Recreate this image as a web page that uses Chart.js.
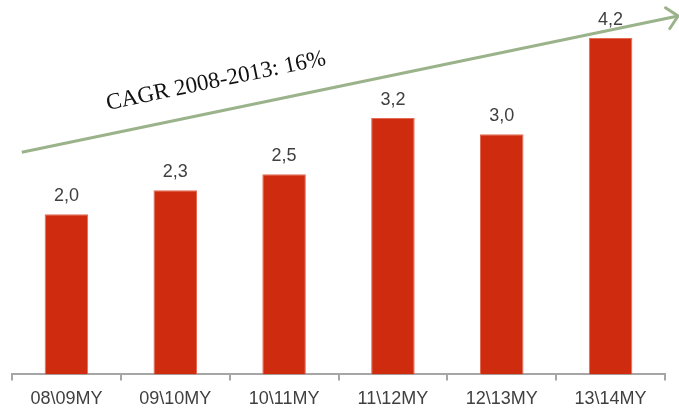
<!DOCTYPE html>
<html>
<head>
<meta charset="utf-8">
<script src="https://cdn.jsdelivr.net/npm/chart.js@4/dist/chart.umd.min.js"></script>
<style>
html,body{margin:0;padding:0;background:#fff;}
#wrap{width:679px;height:408px;position:relative;}
</style>
</head>
<body>
<div id="wrap"><canvas id="c" width="679" height="408"></canvas></div>
<script>
const categories = ['08\\09MY', '09\\10MY', '10\\11MY', '11\\12MY', '12\\13MY', '13\\14MY'];
const values = [2.0, 2.3, 2.5, 3.2, 3.0, 4.2];
const trendLine = [{x: -0.41, y: 2.775}, {x: 5.62, y: 4.475}];
const trendLabel = 'CAGR 2008-2013: 16%';
const trendLabelPos = {x: 1.374, y: 3.66};

const fmt = v => v.toFixed(1).replace('.', ',');

const overlay = {
  id: 'overlay',
  afterDatasetsDraw(chart) {
    const ctx = chart.ctx;
    const xs = chart.scales.x2, ys = chart.scales.y;
    const meta = chart.getDatasetMeta(0);
    ctx.save();
    ctx.fillStyle = '#404040';
    ctx.font = '18px "Liberation Sans", Arial, sans-serif';
    ctx.textAlign = 'center';
    ctx.textBaseline = 'alphabetic';
    meta.data.forEach((bar, i) => {
      ctx.fillText(fmt(values[i]), bar.x, bar.y - 13);
    });
    const lm = chart.getDatasetMeta(1);
    const p0 = lm.data[0], p1 = lm.data[lm.data.length - 1];
    const ang = Math.atan2(p1.y - p0.y, p1.x - p0.x);
    const L = 15, h = Math.PI / 4;
    ctx.strokeStyle = '#9bb38a';
    ctx.lineWidth = 3;
    ctx.lineCap = 'round';
    ctx.beginPath();
    ctx.moveTo(p1.x - L * Math.cos(ang - h), p1.y - L * Math.sin(ang - h));
    ctx.lineTo(p1.x, p1.y);
    ctx.lineTo(p1.x - L * Math.cos(ang + h), p1.y - L * Math.sin(ang + h));
    ctx.stroke();
    const tx = xs.getPixelForValue(trendLabelPos.x), ty = ys.getPixelForValue(trendLabelPos.y);
    ctx.translate(tx, ty);
    ctx.rotate(ang);
    ctx.fillStyle = '#111111';
    ctx.font = '23px "Liberation Serif", "Times New Roman", serif';
    ctx.textAlign = 'center';
    ctx.textBaseline = 'middle';
    ctx.fillText(trendLabel, 0, 0);
    ctx.restore();
  }
};

new Chart(document.getElementById('c'), {
  type: 'bar',
  data: {
    labels: categories,
    datasets: [
      {
        type: 'bar',
        data: values,
        backgroundColor: '#cf2b0e',
        borderColor: '#e56a52',
        borderWidth: 1,
        categoryPercentage: 1,
        barPercentage: 0.4,
        grouped: false,
        xAxisID: 'x',
        yAxisID: 'y'
      },
      {
        type: 'line',
        data: trendLine,
        borderColor: '#9bb38a',
        borderWidth: 3,
        pointRadius: 0,
        clip: false,
        xAxisID: 'x2',
        yAxisID: 'y'
      }
    ]
  },
  options: {
    responsive: false,
    animation: false,
    devicePixelRatio: 1,
    layout: {padding: {left: 12, right: 14, top: 6, bottom: -10}},
    plugins: {legend: {display: false}, tooltip: {enabled: false}},
    scales: {
      x: {
        type: 'category',
        offset: true,
        grid: {display: true, drawOnChartArea: false, drawTicks: true, tickLength: 6, color: '#a6a6a6', lineWidth: 2, offset: true},
        border: {display: true, color: '#a6a6a6', width: 2},
        ticks: {color: '#404040', font: {family: '"Liberation Sans", Arial, sans-serif', size: 18}, padding: 8, maxRotation: 0}
      },
      x2: {
        type: 'linear',
        display: false,
        offset: false,
        grid: {offset: false},
        min: -0.5,
        max: 5.5
      },
      y: {
        display: false,
        min: 0,
        max: 4.6
      }
    }
  },
  plugins: [overlay]
});
</script>
</body>
</html>
